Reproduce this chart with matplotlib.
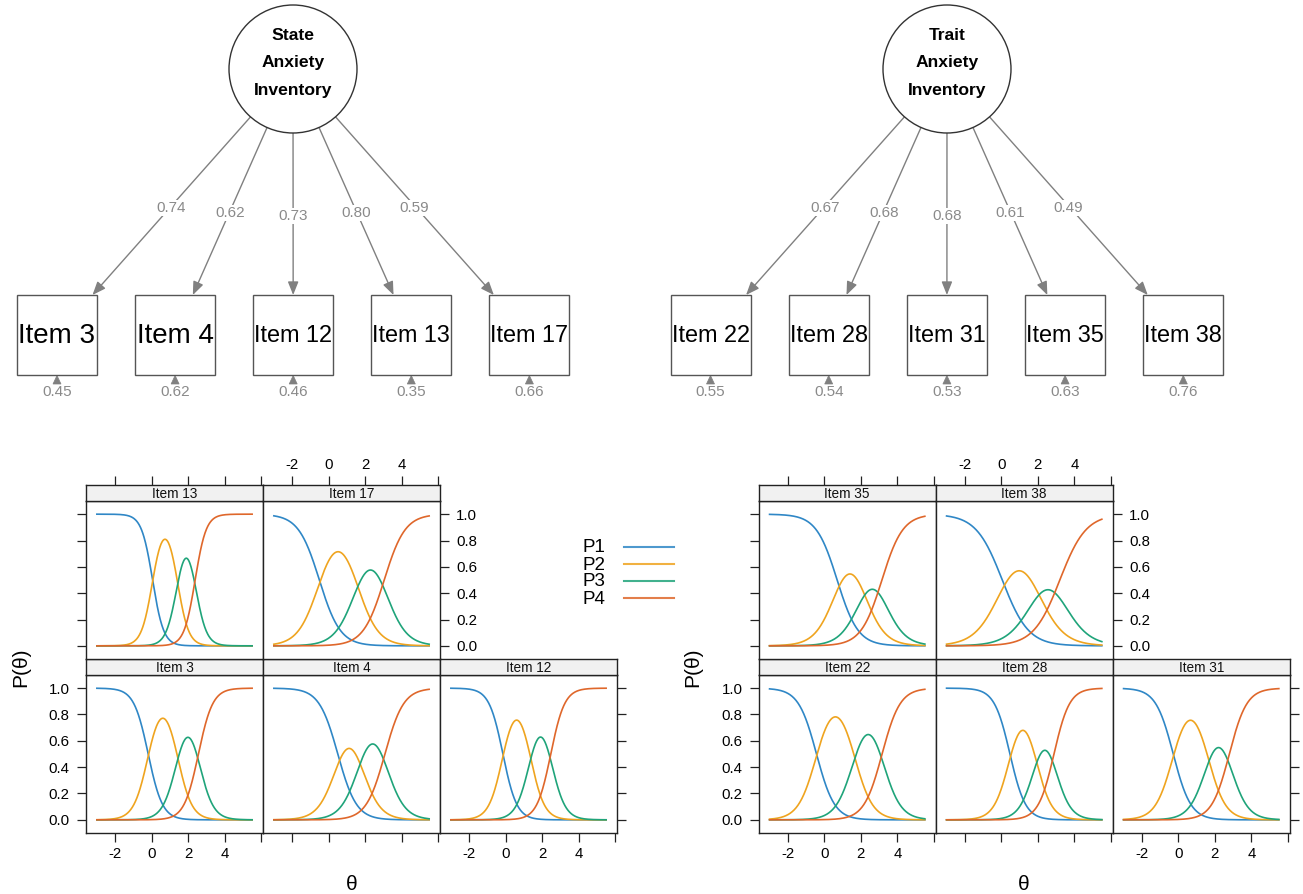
import numpy as np
import matplotlib
matplotlib.use("Agg")
import matplotlib.pyplot as plt
from matplotlib.patches import Circle, Rectangle, Polygon

plt.rcParams['font.family'] = ['Liberation Sans', 'DejaVu Sans']

# ---------------- data ----------------
state_title = "State\nAnxiety\nInventory"
trait_title = "Trait\nAnxiety\nInventory"
state_items = ["Item 3", "Item 4", "Item 12", "Item 13", "Item 17"]
state_loadings = [0.74, 0.62, 0.73, 0.80, 0.59]
state_resid = [0.45, 0.62, 0.46, 0.35, 0.66]
trait_items = ["Item 22", "Item 28", "Item 31", "Item 35", "Item 38"]
trait_loadings = [0.67, 0.68, 0.68, 0.61, 0.49]
trait_resid = [0.55, 0.54, 0.53, 0.63, 0.76]

# graded-response item parameters (a, b1..b3)
state_a = [2.56, 1.96, 2.64, 3.31, 1.75]
state_b = [[-0.19, 1.41, 2.56], [0.50, 1.74, 3.08], [-0.15, 1.35, 2.47],
           [0.05, 1.41, 2.38], [-0.51, 1.54, 3.04]]
trait_a = [2.03, 2.35, 2.09, 1.75, 1.40]
trait_b = [[-0.43, 1.64, 3.16], [0.47, 1.88, 2.88], [-0.28, 1.61, 2.79],
           [0.70, 2.10, 3.15], [0.05, 1.90, 3.20]]
theta_min, theta_max = -3.0, 5.5
categories = ["P1", "P2", "P3", "P4"]
cat_colors = ["#2F87C6", "#EFA41F", "#1FA47A", "#DF672B"]
x_ticks = [-2, 0, 2, 4, 6]
x_ticklabels = ["-2", "0", "2", "4", ""]
y_ticks = [0.0, 0.2, 0.4, 0.6, 0.8, 1.0]
y_ticklabels = ["0.0", "0.2", "0.4", "0.6", "0.8", "1.0"]

# ---------------- figure ----------------
W, H, DPI = 1303, 894, 100
fig = plt.figure(figsize=(W / DPI, H / DPI), dpi=DPI)
fig.patch.set_facecolor("white")


def px_rect(x0, y0, x1, y1):
    return [x0 / W, 1 - y1 / H, (x1 - x0) / W, (y1 - y0) / H]


ov = fig.add_axes([0, 0, 1, 1])
ov.set_xlim(0, W)
ov.set_ylim(H, 0)
ov.axis("off")
renderer = fig.canvas.get_renderer()

EDGE = "#808080"
LABEL_GRAY = "#8a8a8a"


def draw_sem(cx, cy, r, box_x0, box_dx, title, items, loads, resid):
    ov.add_patch(Circle((cx, cy), r, fc="white", ec="#333333", lw=1.0, zorder=3))
    ov.text(cx, cy - 6, title, ha="center", va="center", fontsize=12.6,
            fontweight="bold", linespacing=2.05, zorder=4)
    bw, bh, btop = 80, 80, 295
    for i, (item, ld, rs) in enumerate(zip(items, loads, resid)):
        bx = box_x0 + box_dx * i
        bcy = btop + bh / 2
        ov.add_patch(Rectangle((bx - bw / 2, btop), bw, bh, fc="white",
                               ec="#555555", lw=1.0, zorder=3))
        t = ov.text(bx, bcy + 1, item, ha="center", va="center", fontsize=20, zorder=4)
        wpx = t.get_window_extent(renderer).width
        if wpx > 78:
            t.set_fontsize(20 * 78 / wpx)
        dx, dy = bx - cx, bcy - cy
        L = np.hypot(dx, dy)
        sx, sy = cx + r * dx / L, cy + r * dy / L
        tt = (btop - cy) / dy
        ex, ey = cx + tt * dx, btop
        ov.annotate("", xy=(ex, ey), xytext=(sx, sy), zorder=2,
                    arrowprops=dict(arrowstyle="-|>,head_length=0.8,head_width=0.32",
                                    color=EDGE, lw=1.0, shrinkA=0, shrinkB=0))
        ov.text((sx + ex) / 2, (sy + ey) / 2 + 2, f"{ld:.2f}", ha="center", va="center",
                fontsize=11, color=LABEL_GRAY, zorder=5,
                bbox=dict(boxstyle="square,pad=0.05", fc="white", ec="none"))
        # residual arrow
        yb = btop + bh
        ov.add_patch(Polygon([[bx, yb + 0.5], [bx - 4, yb + 9], [bx + 4, yb + 9]],
                             closed=True, fc=EDGE, ec=EDGE, lw=0.5, zorder=2))
        ov.text(bx, yb + 16.5, f"{rs:.2f}", ha="center", va="center",
                fontsize=11, color=LABEL_GRAY, zorder=5)


draw_sem(293, 69, 64, 57, 118.1, state_title, state_items, state_loadings, state_resid)
draw_sem(947, 69, 64, 710.5, 118.2, trait_title, trait_items, trait_loadings, trait_resid)

theta = np.linspace(theta_min, theta_max, 400)


def grm(a, b):
    pstar = [1.0 / (1.0 + np.exp(-a * (theta - bk))) for bk in b]
    cum = [np.ones_like(theta)] + pstar + [np.zeros_like(theta)]
    return [cum[k] - cum[k + 1] for k in range(len(cum) - 1)]


pad_x = 0.07 * (theta_max - theta_min)
XLIM = (theta_min - pad_x, theta_max + pad_x)
YLIM = (-0.1, 1.1)
TICKLEN = 6.2
FRAME = "#222222"


def style_frame(ax):
    for s in ax.spines.values():
        s.set_color(FRAME)
        s.set_linewidth(1.0)


def draw_lattice(col_lefts, items, a_list, b_list, ylab_x, xlab_x):
    cw = 177
    rows = {"top": (485, 501, 659), "bottom": (659, 675, 833)}
    placement = [(0, "bottom"), (1, "bottom"), (2, "bottom"), (0, "top"), (1, "top")]
    for idx, (c, r) in enumerate(placement):
        s0, p0, p1 = rows[r]
        x0 = col_lefts[c]
        x1 = x0 + cw
        ax = fig.add_axes(px_rect(x0, p0, x1, p1))
        for k, pk in enumerate(grm(a_list[idx], b_list[idx])):
            ax.plot(theta, pk, color=cat_colors[k], lw=1.2)
        ax.set_xlim(*XLIM)
        ax.set_ylim(*YLIM)
        style_frame(ax)
        ax.set_xticks(x_ticks)
        ax.set_xticklabels(x_ticklabels)
        ax.set_yticks(y_ticks)
        ax.set_yticklabels(y_ticklabels)
        bottom_row = r == "bottom"
        ax.tick_params(axis="x", direction="out", length=TICKLEN, width=0.9,
                       color=FRAME, labelsize=10.8, pad=4,
                       bottom=bottom_row, top=False,
                       labelbottom=bottom_row and c in (0, 2), labeltop=False)
        if bottom_row:
            left, right = c == 0, c == 2
            lab_left, lab_right = c == 0, False
        else:
            left, right = c == 0, c == 1
            lab_left, lab_right = False, c == 1
        ax.tick_params(axis="y", direction="out", length=TICKLEN, width=0.9,
                       color=FRAME, labelsize=10.8, pad=5.5,
                       left=left, right=right, labelleft=lab_left, labelright=lab_right)
        # strip
        sax = fig.add_axes(px_rect(x0, s0, x1, p0))
        sax.set_facecolor("#F1F1F1")
        sax.set_xlim(*XLIM)
        sax.set_ylim(0, 1)
        style_frame(sax)
        sax.set_yticks([])
        sax.set_xticks(x_ticks)
        sax.set_xticklabels(x_ticklabels)
        sax.tick_params(axis="x", direction="out", length=TICKLEN, width=0.9,
                        color=FRAME, labelsize=10.8, pad=3.5,
                        bottom=False, labelbottom=False,
                        top=not bottom_row, labeltop=(not bottom_row) and c == 1)
        sax.text(0.5, 0.45, items[idx], transform=sax.transAxes, ha="center",
                 va="center", fontsize=9.8, color="#111111")
    ov.text(ylab_x, 667, "P(θ)", rotation=90, ha="center", va="center", fontsize=15)
    ov.text(xlab_x, 885, "θ", ha="center", va="center", fontsize=15)


draw_lattice([86, 263, 440], state_items, state_a, state_b, 21, 351.5)
draw_lattice([758.7, 935.7, 1112.7], trait_items, trait_a, trait_b, 693, 1024)

# legend (placed between the two trace-line lattices)
for k, (lab, col) in enumerate(zip(categories, cat_colors)):
    yk = 547 + 17 * k
    ov.plot([624, 674], [yk, yk], color=col, lw=1.5, alpha=0.85)
    ov.text(583, yk + 1, lab, ha="left", va="center", fontsize=13.5)

fig.savefig("out.png", dpi=DPI, facecolor="white")
